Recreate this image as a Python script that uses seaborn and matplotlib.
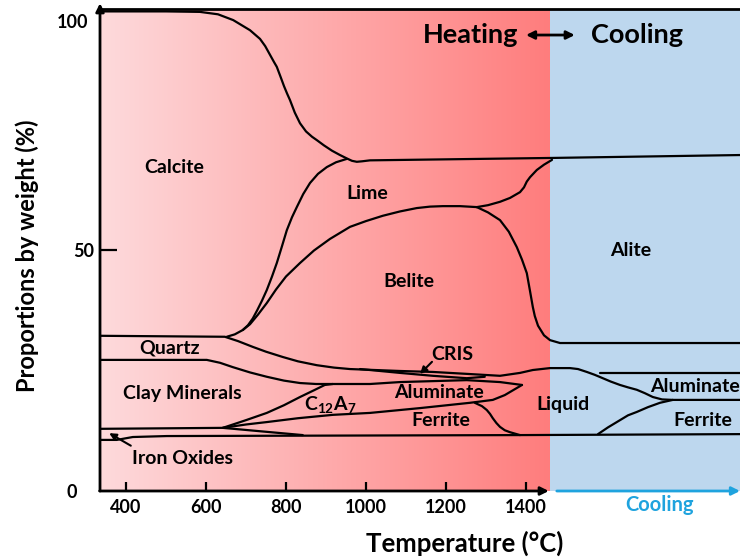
import numpy as np
import matplotlib
matplotlib.use("Agg")
import matplotlib.pyplot as plt
from matplotlib.colors import LinearSegmentedColormap
import seaborn as sns

# ---- phase boundaries: temperature (°C) and cumulative weight (%) ----
calcite_T = [335, 500, 585, 630, 668, 710, 735, 748, 760, 770, 777, 787, 795, 803, 810, 822, 835,
             850, 865, 877, 895, 915, 935, 952, 965, 977, 990, 1010, 1465, 1935]
calcite_y = [99.5, 99.5, 99.4, 98.9, 97.7, 95.6, 93.8, 92.3, 90.5, 89.0, 88.0, 85.8, 84.0, 82.4, 81.1,
             78.5, 76.3, 74.6, 73.5, 72.8, 71.7, 70.6, 69.7, 69.0, 68.5, 68.3, 68.4, 68.6, 69.1, 69.7]

lime_left_T = [652, 672, 692, 705, 717, 728, 740, 752, 765, 777, 790, 802, 815, 827, 843, 860, 880, 902, 925, 952]
lime_left_y = [32.0, 32.5, 33.4, 34.4, 35.8, 37.5, 39.5, 41.7, 44.5, 47.3, 50.8, 54.1, 56.8, 58.9, 61.6,
               63.9, 65.8, 67.2, 68.2, 68.9]

belite_top_T = [692, 710, 730, 752, 775, 800, 835, 870, 910, 960, 1000, 1042, 1085, 1127, 1160, 1192, 1235, 1277]
belite_top_y = [33.4, 34.6, 36.6, 39.0, 41.8, 44.5, 47.3, 49.9, 52.3, 54.8, 56.0, 57.1, 58.0, 58.7, 59.0,
                59.1, 59.1, 58.9]

lime_right_T = [1277, 1305, 1335, 1360, 1385, 1395, 1402, 1410, 1427, 1445, 1465]
lime_right_y = [58.9, 59.3, 60.0, 60.8, 62.0, 63.0, 64.2, 65.1, 66.6, 67.7, 68.7]

belite_right_T = [1277, 1305, 1335, 1357, 1377, 1390, 1402, 1410, 1417, 1422, 1430, 1445, 1460, 1485, 1935]
belite_right_y = [58.9, 57.8, 56.2, 53.8, 50.6, 48.0, 45.2, 41.5, 38.2, 36.3, 34.3, 32.3, 31.3, 30.7, 30.7]

quartz_top_T = [335, 647, 680, 717, 750, 792, 830, 877, 920, 960, 1085, 1167, 1252, 1335, 1385, 1417, 1460,
                1510, 1530, 1552, 1572, 1592, 1612, 1635, 1655, 1677, 1697, 1717, 1740, 1767, 1935]
quartz_top_y = [32.2, 32.0, 31.1, 29.9, 28.9, 27.8, 26.9, 26.1, 25.6, 25.3, 24.9, 24.7, 24.3, 23.9, 24.5,
                25.1, 25.5, 25.5, 25.3, 24.7, 24.1, 23.4, 22.7, 22.0, 21.5, 21.0, 20.3, 19.5, 19.0, 18.9, 18.9]

cris_low_T = [985, 1085, 1167, 1252, 1297]
cris_low_y = [25.3, 24.5, 23.9, 23.4, 23.7]

clay_top_T = [335, 602, 635, 667, 710, 752, 795, 835, 875, 917, 1010, 1085, 1252, 1335, 1390]
clay_top_y = [27.2, 27.2, 26.6, 25.7, 24.6, 23.7, 22.9, 22.4, 22.2, 22.2, 22.2, 22.6, 23.0, 22.6, 22.0]

alum_bottom_T = [642, 700, 752, 830, 917, 1010, 1135, 1260, 1317, 1347, 1390]
alum_bottom_y = [13.1, 13.8, 14.3, 15.1, 15.8, 16.2, 17.2, 18.3, 18.9, 19.9, 22.0]

c12a7_top_T = [642, 700, 752, 795, 835, 870, 897, 917]
c12a7_top_y = [13.1, 14.7, 16.2, 17.8, 19.5, 20.9, 22.0, 22.2]

ferrite_right_T = [1272, 1290, 1302, 1310, 1317, 1326, 1335, 1347, 1360, 1385]
ferrite_right_y = [18.3, 17.6, 16.8, 16.0, 15.1, 14.1, 13.3, 12.6, 12.2, 11.6]

base_T = [335, 377, 417, 502, 1385, 1935]
base_y = [10.6, 10.6, 11.2, 11.4, 11.6, 11.8]

iron_top_T = [335, 642, 735, 842]
iron_top_y = [12.9, 13.1, 12.4, 11.6]

alum_cool_T = [1585, 1935]
alum_cool_y = [24.5, 24.5]

ferrite_cool_T = [1580, 1605, 1635, 1655, 1677, 1705, 1735, 1767]
ferrite_cool_y = [11.8, 13.2, 14.7, 15.7, 16.4, 17.4, 18.3, 18.9]

boundaries = [
    (calcite_T, calcite_y), (lime_left_T, lime_left_y), (belite_top_T, belite_top_y),
    (lime_right_T, lime_right_y), (belite_right_T, belite_right_y),
    (quartz_top_T, quartz_top_y), (cris_low_T, cris_low_y), (clay_top_T, clay_top_y),
    (alum_bottom_T, alum_bottom_y), (c12a7_top_T, c12a7_top_y),
    (ferrite_right_T, ferrite_right_y), (base_T, base_y), (iron_top_T, iron_top_y),
    (alum_cool_T, alum_cool_y), (ferrite_cool_T, ferrite_cool_y),
]

# phase names and where they sit
phase_names = ["Calcite", "Lime", "Belite", "Alite", "Quartz", "Clay Minerals",
               "Aluminate", "Ferrite", "CRIS", "Liquid", "Ferrite", "Iron Oxides"]
phase_T = [520, 1002, 1107, 1662, 510, 542, 1182, 1187, 1217, 1492, 1842, 542]
phase_y = [67.2, 61.8, 43.4, 50.0, 29.7, 20.3, 20.5, 14.7, 28.4, 18.0, 14.7, 6.8]

x_ticks = [400, 600, 800, 1000, 1200, 1400]
T_min, T_max, T_peak = 335, 1935, 1460

sns.set_theme(style="white")
plt.rcParams["font.family"] = ["Lato", "DejaVu Sans"]
plt.rcParams["font.weight"] = "bold"
plt.rcParams["text.color"] = "black"
plt.rcParams["axes.labelcolor"] = "black"
plt.rcParams["xtick.color"] = "black"
plt.rcParams["ytick.color"] = "black"
plt.rcParams["mathtext.fontset"] = "custom"
plt.rcParams["mathtext.rm"] = "Lato:bold"
plt.rcParams["mathtext.it"] = "Lato:bold"
plt.rcParams["mathtext.bf"] = "Lato:bold"

fig = plt.figure(figsize=(7.4, 5.58), dpi=100)
ax = fig.add_axes([100 / 740, 67 / 558, 640 / 740, 482 / 558])

# heating zone gradient and cooling zone
heat_cmap = LinearSegmentedColormap.from_list("heat", ["#fddadc", "#ff7d7d"])
ax.imshow(np.linspace(0, 1, 256).reshape(1, -1), cmap=heat_cmap, aspect="auto",
          extent=[T_min, T_peak, 0, 100], zorder=0, interpolation="bicubic")
ax.axvspan(T_peak, T_max, color="#bdd7ee", zorder=0, lw=0)

for xs, ys in boundaries:
    sns.lineplot(x=xs, y=ys, sort=False, estimator=None, color="black",
                 linewidth=1.6, ax=ax, zorder=3)

ax.set_xlim(T_min, T_max)
ax.set_ylim(0, 100)

label_fs = 14
for name, tx, ty in zip(phase_names, phase_T, phase_y):
    ax.text(tx, ty, name, ha="center", va="center", fontsize=label_fs,
            fontweight="bold", zorder=5)
ax.text(1710, 21.6, "Aluminate", ha="left", va="center", fontsize=label_fs,
        fontweight="bold", zorder=5, clip_on=False)
ax.text(910, 18.0, r"$\mathrm{C_{12}A_{7}}$", ha="center", va="center",
        fontsize=label_fs, zorder=5)

# pointers for thin bands
ax.annotate("", xy=(1135, 24.3), xytext=(1165, 26.8),
            arrowprops=dict(arrowstyle="-|>", color="black", lw=1.5,
                            mutation_scale=10, shrinkA=0, shrinkB=0), zorder=6)
ax.annotate("", xy=(358, 12.0), xytext=(412, 9.4),
            arrowprops=dict(arrowstyle="-|>", color="black", lw=1.5,
                            mutation_scale=10, shrinkA=0, shrinkB=0), zorder=6)

# Heating <-> Cooling header
ax.text(1262, 94.6, "Heating", ha="center", va="center", fontsize=19.5, fontweight="bold")
ax.text(1677, 94.6, "Cooling", ha="center", va="center", fontsize=19.5, fontweight="bold")
ax.annotate("", xy=(1522, 94.6), xytext=(1400, 94.6),
            arrowprops=dict(arrowstyle="<|-|>", color="black", lw=2,
                            mutation_scale=12, shrinkA=0, shrinkB=0))

# axes frame: top line, y arrow, temperature arrow and cooling arrow
for s in ["right", "bottom", "left"]:
    ax.spines[s].set_visible(False)
ax.spines["top"].set_color("black")
ax.spines["top"].set_linewidth(2)
ax.annotate("", xy=(T_min, 101.2), xytext=(T_min, 0),
            arrowprops=dict(arrowstyle="-|>", color="black", lw=2,
                            mutation_scale=12, shrinkA=0, shrinkB=0),
            annotation_clip=False, zorder=7)
ax.annotate("", xy=(1457, 0), xytext=(T_min - 1, 0),
            arrowprops=dict(arrowstyle="-|>", color="black", lw=2,
                            mutation_scale=12, shrinkA=0, shrinkB=0),
            annotation_clip=False, zorder=7)
ax.annotate("", xy=(T_max, 0), xytext=(1477, 0),
            arrowprops=dict(arrowstyle="-|>", color="#1fa3de", lw=2,
                            mutation_scale=12, shrinkA=0, shrinkB=0),
            annotation_clip=False, zorder=7)
ax.text(1735, -3.0, "Cooling", ha="center", va="center", fontsize=14.5,
        fontweight="bold", color="#1fa3de", clip_on=False)

# ticks
ax.set_xticks(x_ticks)
ax.set_xticklabels([str(t) for t in x_ticks], fontsize=13, fontweight="bold")
ax.tick_params(axis="x", direction="in", length=6.5, width=1.6, color="black",
               pad=6, bottom=True)
ax.set_yticks([50])
ax.set_yticklabels(["50"], fontsize=13, fontweight="bold")
ax.tick_params(axis="y", direction="in", length=12, width=1.6, color="black",
               pad=4, left=True)
ax.annotate("100", xy=(T_min, 100), xytext=(-12, -14), textcoords="offset pixels",
            ha="right", va="center", fontsize=13, fontweight="bold",
            annotation_clip=False)
ax.annotate("0", xy=(T_min, 0), xytext=(-23, -2), textcoords="offset pixels",
            ha="right", va="center", fontsize=13, fontweight="bold",
            annotation_clip=False)

fig.text(465 / 740, 1 - 543 / 558, "Temperature (°C)", ha="center", va="center",
         fontsize=18.5, fontweight="bold")
fig.text(27 / 740, 1 - 256 / 558, "Proportions by weight (%)", ha="center",
         va="center", rotation=90, fontsize=17, fontweight="bold")

fig.savefig("out.png", dpi=100, facecolor="white")
